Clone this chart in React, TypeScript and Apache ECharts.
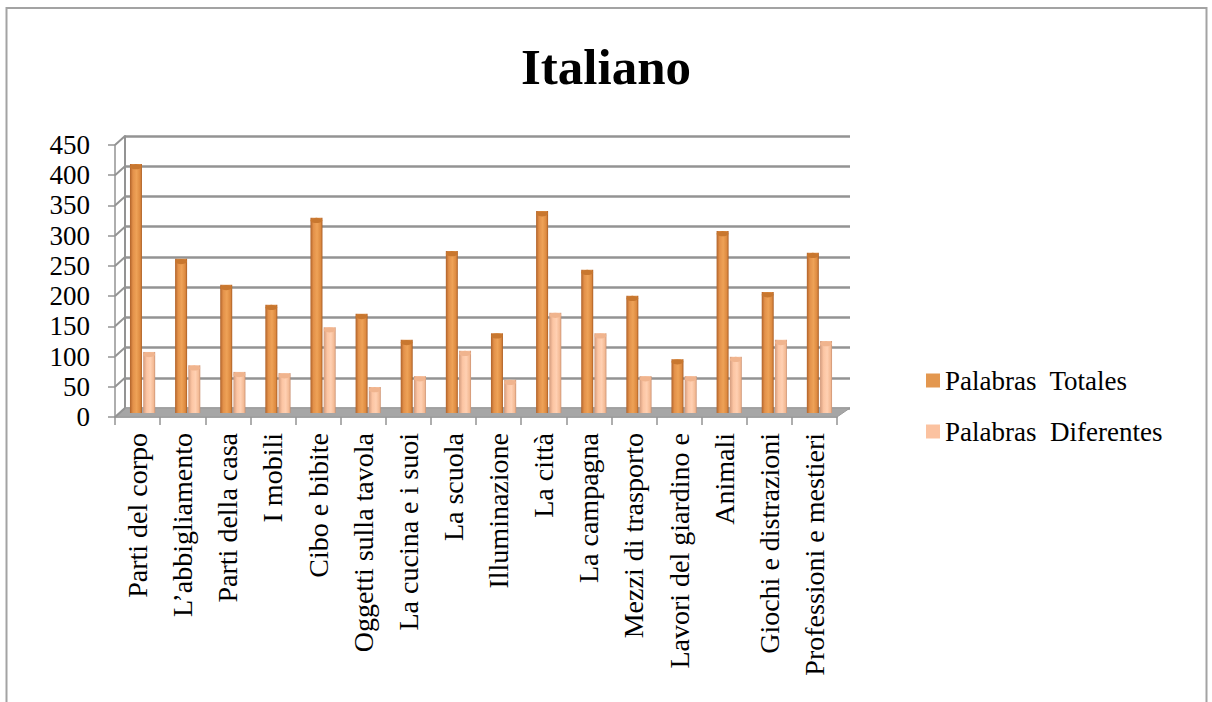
import React, { useEffect, useRef } from "react";
import * as echarts from "echarts";

const categories = [
  "Parti del corpo",
  "L\u2019abbigliamento",
  "Parti della casa",
  "I mobili",
  "Cibo e bibite",
  "Oggetti sulla tavola",
  "La cucina e i suoi",
  "La scuola",
  "Illuminazione",
  "La città",
  "La campagna",
  "Mezzi di trasporto",
  "Lavori del giardino e",
  "Animali",
  "Giochi e distrazioni",
  "Professioni e mestieri",
];
const totales = [412, 255, 212, 179, 323, 164, 121, 268, 132, 334, 237, 194, 89, 301, 200, 265];
const diferentes = [101, 79, 68, 66, 142, 43, 61, 103, 55, 166, 132, 61, 61, 93, 121, 119];
const seriesNames = ["Palabras  Totales", "Palabras  Diferentes"];
const yMin = 0;
const yMax = 450;
const yStep = 50;

const FONT = "Liberation Serif";
const GRID_LINE = "#939393";

const BACK = { left: 125, top: 136, width: 725, height: 272 };
const FRONT = { left: 115, top: 145, width: 722, height: 272 };
const BARS = { left: 120, top: 141, width: 722, height: 272 };

export default function App() {
  const ref = useRef<HTMLDivElement>(null);
  useEffect(() => {
    if (!ref.current) return;
    const chart = echarts.init(ref.current, undefined, { renderer: "svg" });

    const ticks: number[] = [];
    for (let v = yMin; v <= yMax; v += yStep) ticks.push(v);
    const scale = FRONT.height / (yMax - yMin);
    const connectors = ticks.map((v) => ({
      type: "line",
      z: 1,
      shape: {
        x1: FRONT.left,
        y1: FRONT.top + FRONT.height - (v - yMin) * scale,
        x2: BACK.left,
        y2: BACK.top + BACK.height - (v - yMin) * scale,
      },
      style: { stroke: GRID_LINE, lineWidth: 2 },
    }));

    const gradT = new echarts.graphic.LinearGradient(0, 0, 1, 0, [
      { offset: 0, color: "#b0622a" },
      { offset: 0.25, color: "#e3914a" },
      { offset: 0.55, color: "#eea257" },
      { offset: 0.85, color: "#dd8a40" },
      { offset: 1, color: "#a85c24" },
    ]);
    const gradD = new echarts.graphic.LinearGradient(0, 0, 1, 0, [
      { offset: 0, color: "#d29a7c" },
      { offset: 0.3, color: "#fcc5a3" },
      { offset: 0.6, color: "#ffd0b2" },
      { offset: 0.88, color: "#f3b993" },
      { offset: 1, color: "#c98f70" },
    ]);

    const hiddenCat = (gridIndex: number) => ({
      type: "category",
      gridIndex,
      data: categories,
      show: false,
    });
    const hiddenVal = (gridIndex: number) => ({
      type: "value",
      gridIndex,
      min: yMin,
      max: yMax,
      interval: yStep,
      show: false,
    });

    chart.setOption({
      animation: false,
      backgroundColor: "#ffffff",
      title: {
        text: "Italiano",
        left: "center",
        top: 36,
        textStyle: { fontFamily: FONT, fontSize: 51, fontWeight: "bold", color: "#000" },
      },
      legend: {
        orient: "vertical",
        left: 921,
        top: 362,
        itemGap: 24,
        itemWidth: 14,
        itemHeight: 14,
        icon: "rect",
        textStyle: { fontFamily: FONT, fontSize: 27, color: "#000" },
        data: [
          { name: seriesNames[0], itemStyle: { color: "#e3974f" } },
          { name: seriesNames[1], itemStyle: { color: "#fbc2a0" } },
        ],
      },
      grid: [
        { ...BACK, containLabel: false },
        { ...FRONT, containLabel: false },
        { ...BARS, containLabel: false },
      ],
      xAxis: [
        { ...hiddenCat(0) },
        {
          type: "category",
          gridIndex: 1,
          data: categories,
          boundaryGap: true,
          axisLine: { show: true, lineStyle: { color: GRID_LINE, width: 1.5 } },
          axisTick: { show: true, length: 8, lineStyle: { color: GRID_LINE, width: 1.5 } },
          axisLabel: {
            rotate: 90,
            interval: 0,
            margin: 16,
            fontFamily: FONT,
            fontSize: 28,
            color: "#000",
          },
        },
        { ...hiddenCat(2) },
      ],
      yAxis: [
        {
          type: "value",
          gridIndex: 0,
          min: yMin,
          max: yMax,
          interval: yStep,
          axisLine: { show: true, lineStyle: { color: GRID_LINE, width: 2 } },
          axisTick: { show: false },
          axisLabel: { show: false },
          splitLine: { show: true, lineStyle: { color: GRID_LINE, width: 2.5 } },
        },
        {
          type: "value",
          gridIndex: 1,
          min: yMin,
          max: yMax,
          interval: yStep,
          axisLine: { show: true, lineStyle: { color: GRID_LINE, width: 1.5 } },
          axisTick: { show: true, length: 7, lineStyle: { color: GRID_LINE, width: 1.5 } },
          axisLabel: { margin: 25, fontFamily: FONT, fontSize: 27, color: "#000" },
          splitLine: { show: false },
        },
        { ...hiddenVal(2) },
      ],
      graphic: [
        {
          type: "rect",
          z: 0,
          shape: { x: 6.5, y: 8, width: 1200, height: 760 },
          style: { fill: "none", stroke: "#a3a3a3", lineWidth: 2 },
        },
        {
          type: "polygon",
          z: 1,
          shape: {
            points: [
              [FRONT.left, FRONT.top + FRONT.height],
              [FRONT.left + FRONT.width, FRONT.top + FRONT.height],
              [BACK.left + BACK.width, BACK.top + BACK.height],
              [BACK.left, BACK.top + BACK.height],
            ],
          },
          style: { fill: "#a6a6a6", stroke: "#9a9a9a", lineWidth: 1 },
        },
        ...connectors,
      ],
      series: [
        {
          name: seriesNames[0],
          type: "bar",
          xAxisIndex: 2,
          yAxisIndex: 2,
          data: totales,
          barWidth: 12,
          barGap: "10%",
          z: 3,
          itemStyle: { color: gradT },
        },
        {
          name: seriesNames[1],
          type: "bar",
          xAxisIndex: 2,
          yAxisIndex: 2,
          data: diferentes,
          barWidth: 12,
          barGap: "10%",
          z: 3,
          itemStyle: { color: gradD },
        },
        {
          name: "topT",
          type: "pictorialBar",
          xAxisIndex: 2,
          yAxisIndex: 2,
          data: totales,
          symbol: "circle",
          symbolSize: [12, 5],
          symbolPosition: "end",
          symbolOffset: [-6.6, 0],
          z: 4,
          itemStyle: { color: "#c8772f", borderColor: "#a85c24", borderWidth: 0.5 },
        },
        {
          name: "topD",
          type: "pictorialBar",
          xAxisIndex: 2,
          yAxisIndex: 2,
          data: diferentes,
          symbol: "circle",
          symbolSize: [12, 5],
          symbolPosition: "end",
          symbolOffset: [6.6, 0],
          z: 4,
          itemStyle: { color: "#f0b48e", borderColor: "#d29a7c", borderWidth: 0.5 },
        },
      ],
    });

    return () => chart.dispose();
  }, []);

  return (
    <div
      ref={ref}
      style={{ position: "fixed", left: 0, top: 0, width: 1212, height: 702, background: "#fff" }}
    />
  );
}
